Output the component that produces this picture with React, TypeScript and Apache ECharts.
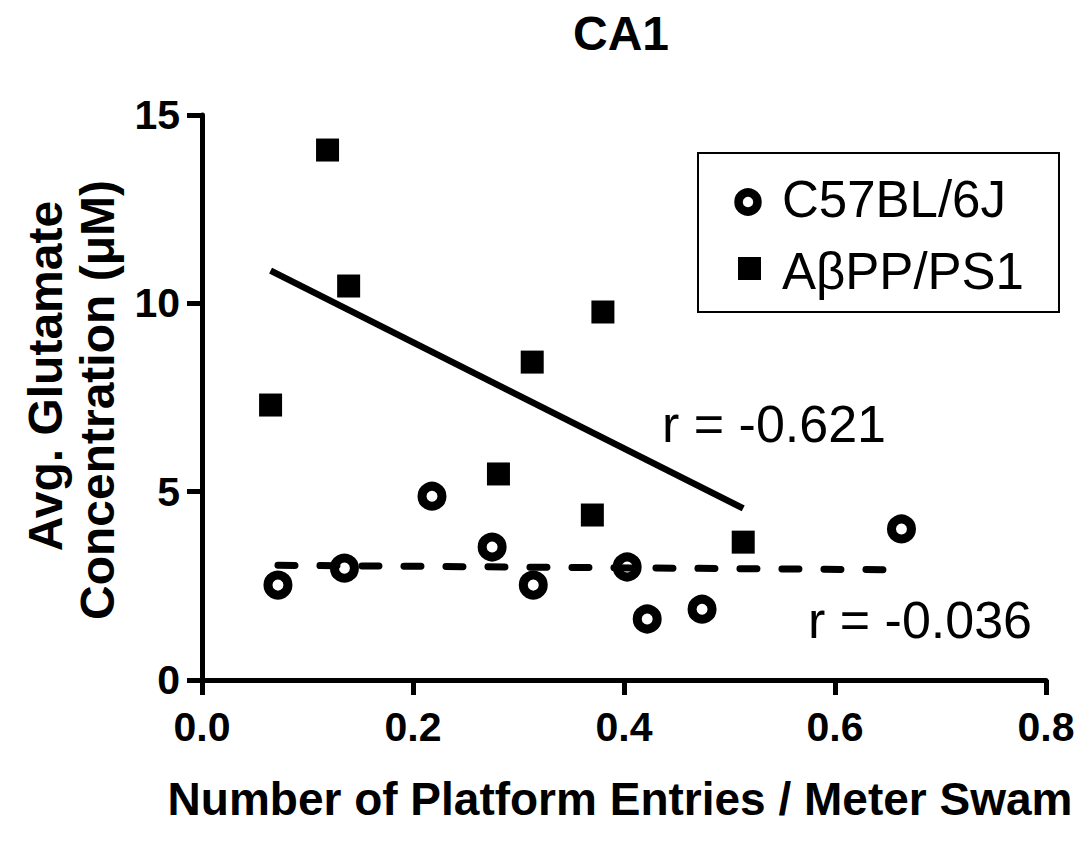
import React, { useEffect, useRef } from "react";
import * as echarts from "echarts";

// ---- data ----
const c57X = [0.072, 0.135, 0.218, 0.275, 0.314, 0.403, 0.422, 0.474, 0.663];
const c57Y = [2.52, 2.97, 4.88, 3.53, 2.52, 3.0, 1.62, 1.88, 4.01];
const appX = [0.065, 0.119, 0.139, 0.281, 0.313, 0.37, 0.38, 0.513];
const appY = [7.3, 14.07, 10.46, 5.47, 8.44, 4.38, 9.77, 3.66];

const seriesNames = ["C57BL/6J", "AβPP/PS1"];
const rLabels = ["r = -0.621", "r = -0.036"];
const titleText = "CA1";
const xTitle = "Number of Platform Entries / Meter Swam";
const yTitleLines = ["Avg. Glutamate", "Concentration (μM)"];

const FONT = "'Liberation Sans', Arial, Helvetica, sans-serif";

function pairs(xs: number[], ys: number[]) {
  return xs.map((x, i) => [x, ys[i]]);
}

// least-squares fit drawn across the range of the data
function fitLine(xs: number[], ys: number[]) {
  const n = xs.length;
  const mx = xs.reduce((a, b) => a + b, 0) / n;
  const my = ys.reduce((a, b) => a + b, 0) / n;
  let sxy = 0;
  let sxx = 0;
  for (let i = 0; i < n; i++) {
    sxy += (xs[i] - mx) * (ys[i] - my);
    sxx += (xs[i] - mx) * (xs[i] - mx);
  }
  const m = sxy / sxx;
  const b = my - m * mx;
  const x0 = Math.min(...xs);
  const x1 = Math.max(...xs);
  return [
    [x0, b + m * x0],
    [x1, b + m * x1],
  ];
}

export default function App() {
  const ref = useRef<HTMLDivElement>(null);

  useEffect(() => {
    if (!ref.current) return;
    const chart = echarts.init(ref.current, null, { renderer: "svg" });

    const axisCommon = {
      axisLine: { show: true, onZero: false, lineStyle: { color: "#000", width: 5 } },
      axisTick: { show: true, inside: false, length: 15, lineStyle: { color: "#000", width: 5 } },
      splitLine: { show: false },
    };

    const option: any = {
      animation: false,
      backgroundColor: "#fff",
      grid: { left: 202, right: 44, top: 115, bottom: 168, containLabel: false },
      xAxis: {
        type: "value",
        min: 0,
        max: 0.8,
        interval: 0.2,
        ...axisCommon,
        axisLabel: {
          color: "#000",
          fontSize: 41,
          fontWeight: "bold",
          fontFamily: FONT,
          margin: 26,
          formatter: (v: number) => v.toFixed(1),
        },
      },
      yAxis: {
        type: "value",
        min: 0,
        max: 15,
        interval: 5,
        ...axisCommon,
        axisLabel: {
          color: "#000",
          fontSize: 41,
          fontWeight: "bold",
          fontFamily: FONT,
          margin: 22,
        },
      },
      series: [
        {
          name: seriesNames[1] + " fit",
          type: "line",
          data: fitLine(appX, appY),
          showSymbol: false,
          symbol: "none",
          lineStyle: { color: "#000", width: 6.5, cap: "butt", opacity: 1 },
          z: 3,
        },
        {
          name: seriesNames[0] + " fit",
          type: "line",
          data: fitLine(c57X, c57Y),
          showSymbol: false,
          symbol: "none",
          lineStyle: { color: "#000", width: 7, type: [17, 25], cap: "round", opacity: 1 },
          z: 3,
        },
        {
          name: seriesNames[0],
          type: "scatter",
          data: pairs(c57X, c57Y),
          symbol: "circle",
          symbolSize: 20,
          itemStyle: { color: "rgba(0,0,0,0)", borderColor: "#000", borderWidth: 9, opacity: 1 },
          z: 4,
        },
        {
          name: seriesNames[1],
          type: "scatter",
          data: pairs(appX, appY),
          symbol: "rect",
          symbolSize: 23,
          itemStyle: { color: "#000", opacity: 1 },
          z: 4,
        },
      ],
      graphic: [
        {
          type: "text",
          x: 621,
          y: 33,
          style: {
            text: titleText,
            font: `bold 48px ${FONT}`,
            fill: "#000",
            align: "center",
            verticalAlign: "middle",
          },
        },
        {
          type: "text",
          x: 620,
          y: 799,
          style: {
            text: xTitle,
            font: `bold 46px ${FONT}`,
            fill: "#000",
            align: "center",
            verticalAlign: "middle",
          },
        },
        {
          type: "text",
          x: 45,
          y: 376,
          rotation: Math.PI / 2,
          style: {
            text: yTitleLines[0],
            font: `bold 48px ${FONT}`,
            fill: "#000",
            align: "center",
            verticalAlign: "middle",
          },
        },
        {
          type: "text",
          x: 97,
          y: 400,
          rotation: Math.PI / 2,
          style: {
            text: yTitleLines[1],
            font: `bold 48px ${FONT}`,
            fill: "#000",
            align: "center",
            verticalAlign: "middle",
          },
        },
        {
          type: "text",
          x: 662,
          y: 424,
          style: {
            text: rLabels[0],
            font: `52px ${FONT}`,
            fill: "#000",
            align: "left",
            verticalAlign: "middle",
          },
        },
        {
          type: "text",
          x: 808,
          y: 620,
          style: {
            text: rLabels[1],
            font: `52px ${FONT}`,
            fill: "#000",
            align: "left",
            verticalAlign: "middle",
          },
        },
        // legend box
        {
          type: "rect",
          shape: { x: 698, y: 153, width: 361, height: 159 },
          style: { fill: "none", stroke: "#000", lineWidth: 2 },
        },
        {
          type: "circle",
          shape: { cx: 748, cy: 202, r: 9.5 },
          style: { fill: "none", stroke: "#000", lineWidth: 8.5 },
        },
        {
          type: "rect",
          shape: { x: 738, y: 257, width: 23, height: 23 },
          style: { fill: "#000" },
        },
        {
          type: "text",
          x: 782,
          y: 199,
          style: {
            text: seriesNames[0],
            font: `51px ${FONT}`,
            fill: "#000",
            align: "left",
            verticalAlign: "middle",
          },
        },
        {
          type: "text",
          x: 782,
          y: 271,
          style: {
            text: seriesNames[1],
            font: `51px ${FONT}`,
            fill: "#000",
            align: "left",
            verticalAlign: "middle",
          },
        },
      ],
    };

    chart.setOption(option);
    return () => chart.dispose();
  }, []);

  return (
    <div
      ref={ref}
      style={{ position: "fixed", left: 0, top: 0, width: 1090, height: 848, background: "#fff" }}
    />
  );
}
